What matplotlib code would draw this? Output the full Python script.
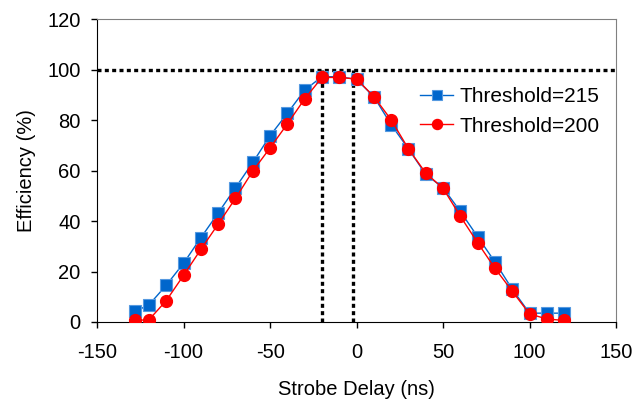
import matplotlib
matplotlib.use("Agg")
import matplotlib.pyplot as plt

plt.rcParams["font.family"] = ["Liberation Sans", "DejaVu Sans"]
plt.rcParams["axes.unicode_minus"] = False

# strobe delay (ns)
delay = [-128, -120, -110, -100, -90, -80, -70, -60, -50, -40, -30, -20, -10,
         0, 10, 20, 30, 40, 50, 60, 70, 80, 90, 100, 110, 120]

# efficiency (%)
eff_215 = [4.2, 6.8, 14.6, 23.3, 33.4, 43.2, 53.2, 63.2, 73.8, 82.7, 91.9, 97.2, 97.2,
           96.1, 89.3, 78.2, 68.6, 58.5, 53.2, 43.8, 33.8, 23.8, 13.0, 3.5, 3.5, 3.5]
eff_200 = [0.6, 0.9, 8.5, 18.5, 28.8, 38.8, 49.0, 59.8, 69.0, 78.5, 88.4, 96.9, 96.9,
           96.3, 89.3, 80.1, 68.6, 59.0, 53.0, 41.9, 31.4, 21.3, 12.2, 3.2, 1.2, 0.6]

labels = ["Threshold=215", "Threshold=200"]
window = [-20, -2]

fig = plt.figure(figsize=(6.39, 3.99), dpi=100)
ax = fig.add_axes([0.152, 0.193, 0.812, 0.759])

dots = dict(color="black", linewidth=2.4, linestyle=(0, (1.2, 1.0)), zorder=1)
ax.plot([-150, 150], [100, 100], **dots)
for x in window:
    ax.plot([x, x], [0, 100], **dots)

ax.plot(delay, eff_215, color="#0066CC", linewidth=1, marker="s", markersize=8.5,
        markerfacecolor="#0066CC", markeredgecolor="#5599E0", markeredgewidth=0.8,
        label=labels[0], zorder=3)
ax.plot(delay, eff_200, color="#FF0000", linewidth=1, marker="o", markersize=8.5,
        markerfacecolor="#FF0000", markeredgecolor="#FF0000",
        label=labels[1], zorder=4)

ax.set_xlim(-150, 150)
ax.set_ylim(0, 120)
ax.set_xticks(range(-150, 151, 50))
ax.set_yticks(range(0, 121, 20))
ax.tick_params(direction="out", length=4, width=1, labelsize=14.5)
ax.tick_params(axis="x", pad=11)
ax.tick_params(axis="y", pad=8)

for side in ["top", "right"]:
    ax.spines[side].set_color("#808080")
for side in ["left", "bottom"]:
    ax.spines[side].set_color("black")

ax.set_xlabel("Strobe Delay (ns)", fontsize=14.5, labelpad=13)
ax.set_ylabel("Efficiency (%)", fontsize=14.5, labelpad=8)

ax.legend(loc="center left", bbox_to_anchor=(0.622, 0.695), frameon=False,
          fontsize=15, handlelength=1.6, handletextpad=0.3, labelspacing=0.5,
          borderaxespad=0, borderpad=0, markerscale=0.85)

fig.savefig("out.png", dpi=100)
